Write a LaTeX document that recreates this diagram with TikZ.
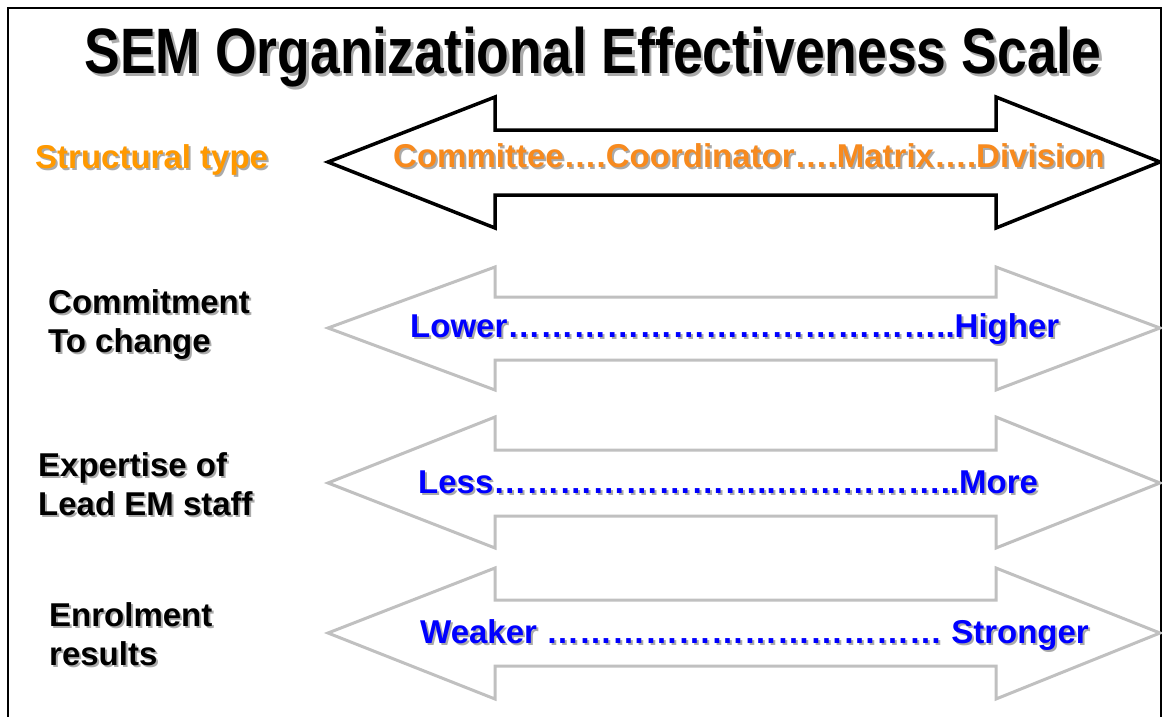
\documentclass[tikz,border=0pt]{standalone}
\usepackage{fontspec}
\usepackage{graphicx}
\setmainfont{Liberation Sans}
\definecolor{labelorange}{RGB}{255,153,0}
\definecolor{scaleorange}{RGB}{247,138,30}
\definecolor{scaleblue}{RGB}{0,0,255}
\definecolor{arrowgray}{RGB}{192,192,192}
\definecolor{shadowgray}{RGB}{170,170,170}
\newcommand{\shadowed}[3][2pt]{\rlap{\kern#1\raisebox{-#1}{\color{shadowgray}#3}}{\color{#2}#3}}
\newcommand{\dotrun}[1]{\foreach \k in {1,...,#1}{…}}

\begin{document}
\begin{tikzpicture}[x=1pt, y=-1pt, line join=miter,
    rowlabel/.style={anchor=base west, align=left, inner sep=0pt, font=\fontsize{33}{39}\selectfont\bfseries},
    scaletext/.style={anchor=base west, inner sep=0pt, font=\fontsize{33}{39}\selectfont\bfseries},
    grayarrow/.style={draw=arrowgray, fill=white, line width=3pt},
    blackarrow/.style={draw=black, fill=white, line width=3.5pt}]
    \useasboundingbox (0,0) rectangle (1162,717);

    % frame
    \draw[line width=2pt] (8,717) -- (8,8) -- (1161,8) -- (1161,717);

    \node[anchor=base, inner sep=0pt, font=\fontsize{53.5}{60}\selectfont\bfseries] (title) at (593,74)
        {\scalebox{1}[1.2]{\shadowed[2.5pt]{black}{SEM Organizational Effectiveness Scale}}};

    % structural type
    \filldraw[blackarrow, shift={(0,162)}] (328,0) -- (495,-65) -- (495,-32) -- (996,-32) -- (996,-65) -- (1160,0)
        -- (996,66) -- (996,33) -- (495,33) -- (495,66) -- cycle;
    \node[rowlabel] (structlabel) at (35,168) {\shadowed{labelorange}{Structural type}};
    \node[scaletext] (structscale) at (393,167) {\shadowed{scaleorange}{Committee….Coordinator….Matrix….Division}};

    % commitment
    \filldraw[grayarrow, shift={(0,328)}] (328,0) -- (495,-61) -- (495,-31) -- (996,-31) -- (996,-61) -- (1160,0)
        -- (996,62) -- (996,32) -- (495,32) -- (495,62) -- cycle;
    \node[rowlabel] (commitlabel) at (48,352) {\shadowed{black}{Commitment}\\\shadowed{black}{To change}};
    \node[scaletext] (commitscale) at (410,337) {\shadowed{scaleblue}{Lower\dotrun{13}..Higher}};

    % expertise
    \filldraw[grayarrow, shift={(0,483)}] (328,0) -- (495,-66) -- (495,-33) -- (996,-33) -- (996,-66) -- (1160,0)
        -- (996,65) -- (996,33) -- (495,33) -- (495,65) -- cycle;
    \node[rowlabel] (expertlabel) at (38,515) {\shadowed{black}{Expertise of}\\\shadowed{black}{Lead EM staff}};
    \node[scaletext] (expertscale) at (418,493) {\shadowed{scaleblue}{Less\dotrun{8}..\dotrun{5}..More}};

    % enrolment
    \filldraw[grayarrow, shift={(0,633)}] (328,0) -- (495,-65) -- (495,-33) -- (996,-33) -- (996,-65) -- (1160,0)
        -- (996,66) -- (996,33) -- (495,33) -- (495,66) -- cycle;
    \node[rowlabel] (enrollabel) at (49,665) {\shadowed{black}{Enrolment}\\\shadowed{black}{results}};
    \node[scaletext] (enrolscale) at (420,643) {\shadowed{scaleblue}{Weaker \dotrun{12} Stronger}};
\end{tikzpicture}
\end{document}
